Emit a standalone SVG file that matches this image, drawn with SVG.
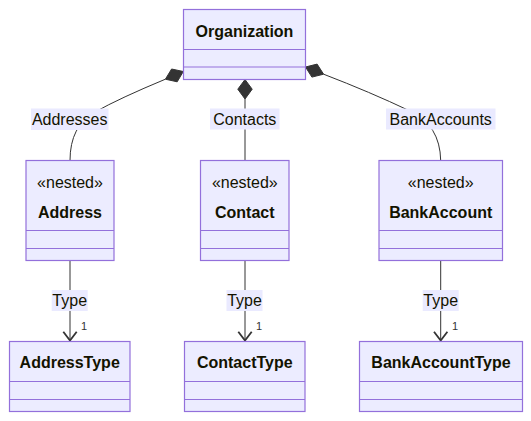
<svg xmlns="http://www.w3.org/2000/svg" width="531" height="421" viewBox="0 0 531 421">
<style>
  .box{fill:#ECECFF;stroke:#9370DB;stroke-width:1.2}
  .div{stroke:#9370DB;stroke-width:1.2;fill:none}
  .title{font-family:"Liberation Sans",Arial,sans-serif;font-size:16px;font-weight:bold;fill:#131300;text-anchor:middle}
  .stereo{font-family:"Liberation Sans",Arial,sans-serif;font-size:16px;fill:#131300;text-anchor:middle}
  .edge{fill:none;stroke:#333333;stroke-width:1}
  .lblbg{fill:#EAEAFF}
  .lbl{font-family:"Liberation Sans",Arial,sans-serif;font-size:16px;fill:#131300;text-anchor:middle}
  .card{font-family:"Liberation Sans",Arial,sans-serif;font-size:11px;fill:#333333;text-anchor:middle}
  .dia{fill:#333333;stroke:#333333;stroke-width:1}
  .arr{fill:none;stroke:#333333;stroke-width:1.8;stroke-linejoin:miter}
</style>
<rect width="531" height="421" fill="#ffffff"/>
<g id="connectors">
  <path class="edge" d="M165.4,79.2 Q120,98 95,112 Q70,126 70,160.5"/>
  <path class="edge" d="M245,99 L245,160.5"/>
  <path class="edge" d="M323.6,74.2 Q370,92 410,111 Q440,125 440.7,160.5"/>
  <polygon class="dia" points="183.3,71.5 171.6,69.0 165.4,79.2 177.2,81.8"/>
  <polygon class="dia" points="245,79.5 252.2,89.2 245,99 237.8,89.2"/>
  <polygon class="dia" points="305.5,67 317.1,64.1 323.6,74.2 311.9,77.1"/>
  <path class="edge" d="M70,260.5 L70,340"/>
  <path class="edge" d="M245,260.5 L245,340"/>
  <path class="edge" d="M440.7,260.5 L440.7,340"/>
  <polyline class="arr" points="63.3,331.7 70,340.5 76.7,331.7"/>
  <polyline class="arr" points="238.3,331.7 245,340.5 251.7,331.7"/>
  <polyline class="arr" points="434,331.7 440.7,340.5 447.4,331.7"/>
  <rect class="lblbg" x="31" y="108.5" width="77.5" height="21.5"/>
  <text class="lbl" x="69.7" y="124.5">Addresses</text>
  <rect class="lblbg" x="210" y="108.5" width="69.5" height="21"/>
  <text class="lbl" x="244.8" y="124.5">Contacts</text>
  <rect class="lblbg" x="386" y="108.5" width="109.5" height="21"/>
  <text class="lbl" x="440.7" y="124.5">BankAccounts</text>
  <rect class="lblbg" x="51.7" y="290" width="36" height="21"/>
  <text class="lbl" x="69.7" y="306">Type</text>
  <rect class="lblbg" x="226.5" y="290" width="36" height="21"/>
  <text class="lbl" x="244.5" y="306">Type</text>
  <rect class="lblbg" x="422.7" y="290" width="36" height="21"/>
  <text class="lbl" x="440.7" y="306">Type</text>
  <text class="card" x="84" y="329.5">1</text>
  <text class="card" x="259" y="329.5">1</text>
  <text class="card" x="455" y="329.5">1</text>
</g>
<g id="Organization">
  <rect class="box" x="183.5" y="9.5" width="122" height="70"/>
  <path class="div" d="M183.5,49.5 H305.5 M183.5,67 H305.5"/>
  <text class="title" x="244.5" y="37">Organization</text>
</g>
<g id="Address">
  <rect class="box" x="26" y="160.5" width="88" height="100"/>
  <path class="div" d="M26,230.5 H114 M26,248.5 H114"/>
  <text class="stereo" x="70" y="188">«nested»</text>
  <text class="title" x="70" y="217.5">Address</text>
</g>
<g id="Contact">
  <rect class="box" x="200.5" y="160.5" width="88.5" height="100"/>
  <path class="div" d="M200.5,230.5 H289 M200.5,248.5 H289"/>
  <text class="stereo" x="244.8" y="188">«nested»</text>
  <text class="title" x="244.8" y="217.5">Contact</text>
</g>
<g id="BankAccount">
  <rect class="box" x="379" y="160.5" width="123.5" height="100"/>
  <path class="div" d="M379,230.5 H502.5 M379,248.5 H502.5"/>
  <text class="stereo" x="440.7" y="188">«nested»</text>
  <text class="title" x="440.7" y="217.5">BankAccount</text>
</g>
<g id="AddressType">
  <rect class="box" x="9.5" y="341.5" width="120.5" height="70"/>
  <path class="div" d="M9.5,381.5 H130 M9.5,399.5 H130"/>
  <text class="title" x="69.7" y="368">AddressType</text>
</g>
<g id="ContactType">
  <rect class="box" x="184.5" y="341.5" width="120.5" height="70"/>
  <path class="div" d="M184.5,381.5 H305 M184.5,399.5 H305"/>
  <text class="title" x="244.8" y="368">ContactType</text>
</g>
<g id="BankAccountType">
  <rect class="box" x="359.5" y="341.5" width="163" height="70"/>
  <path class="div" d="M359.5,381.5 H522.5 M359.5,399.5 H522.5"/>
  <text class="title" x="441" y="368">BankAccountType</text>
</g>
</svg>
